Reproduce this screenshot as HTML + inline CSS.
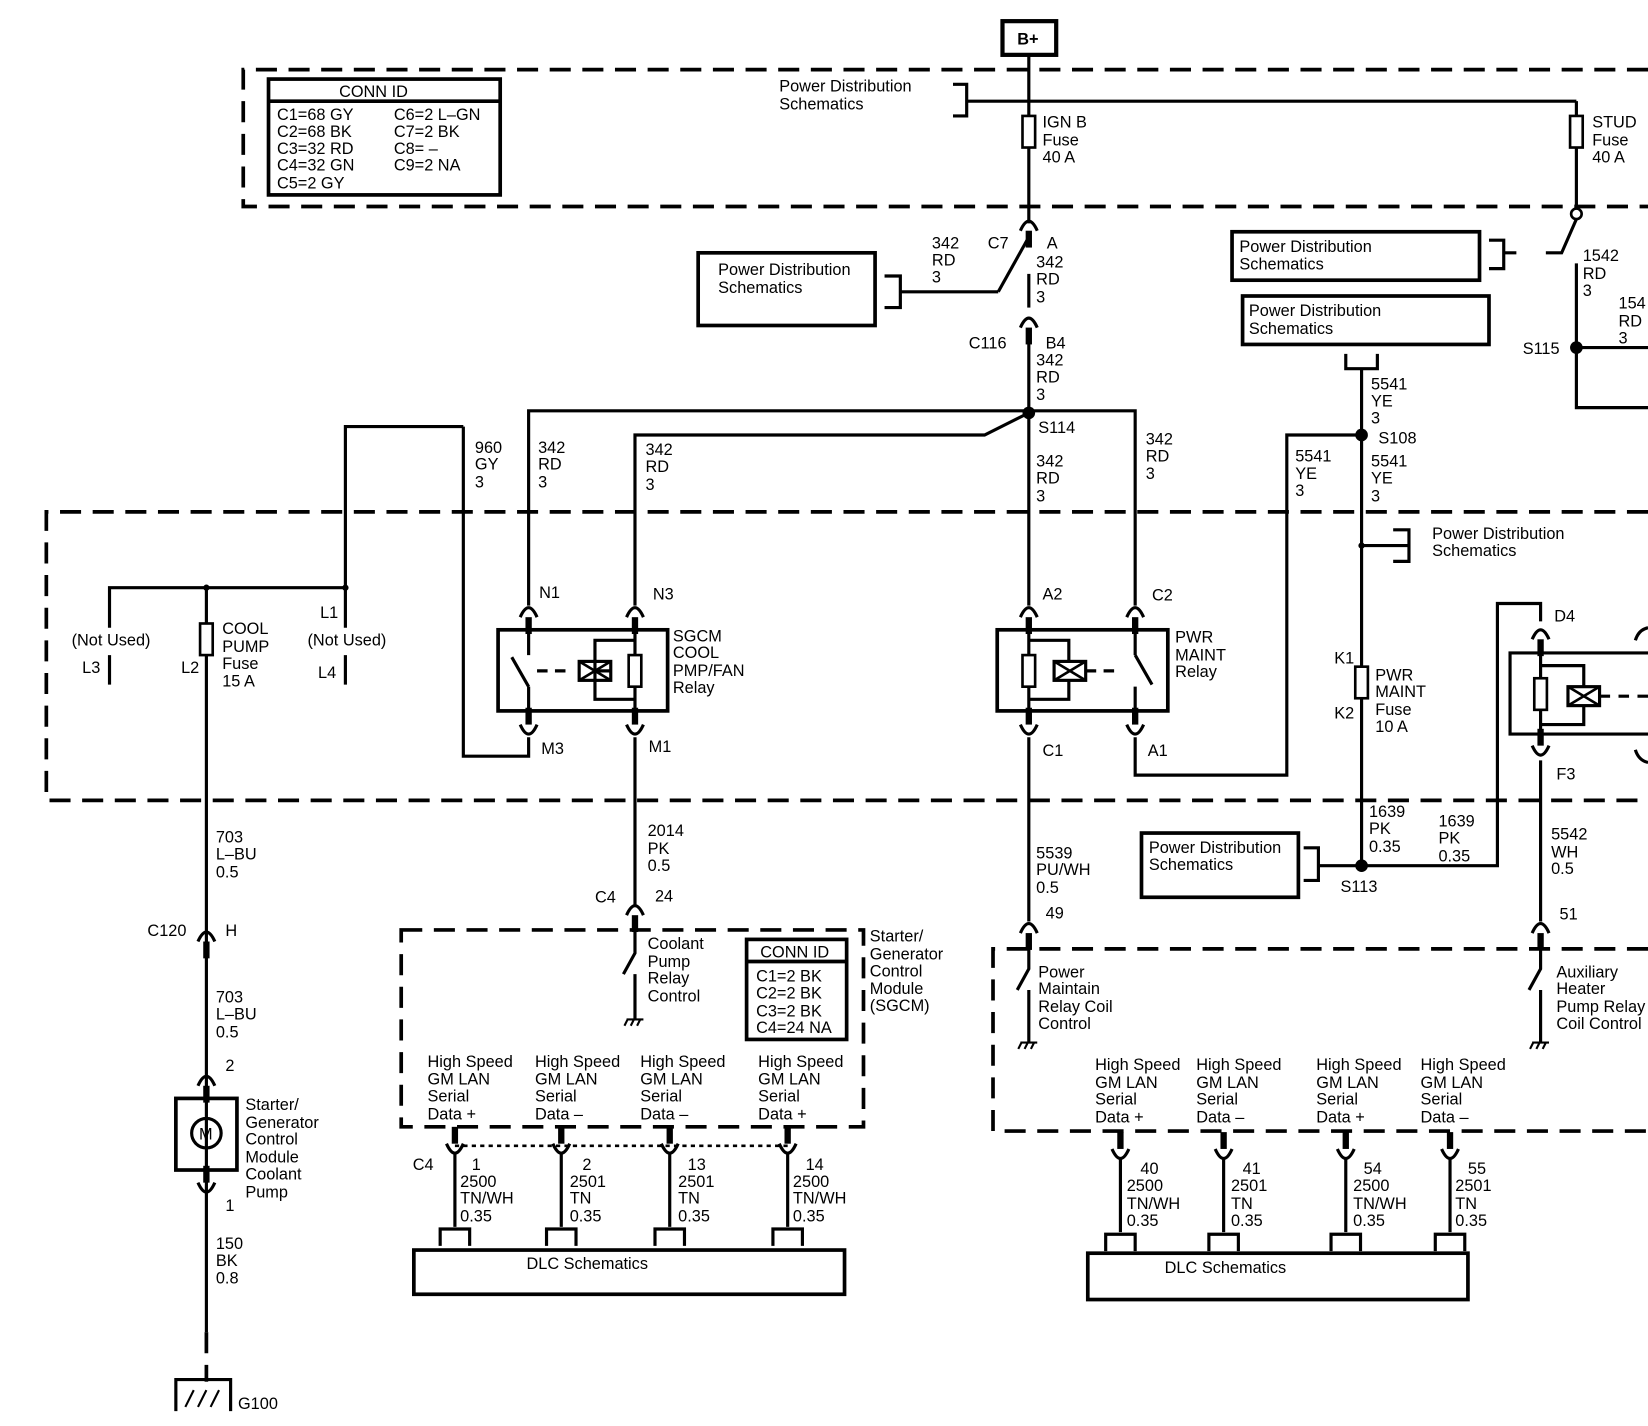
<!DOCTYPE html>
<html><head><meta charset="utf-8"><style>
html,body{margin:0;padding:0;background:#fff;}
svg{display:block;}
text{font-family:"Liberation Sans",sans-serif;font-size:15.5px;fill:#000;}
</style></head><body>
<svg width="1648" height="1426" viewBox="0 0 1565 1354" xmlns="http://www.w3.org/2000/svg">
<defs>
<g id="ct"><path d="M-8,9 Q0,-9 8,9" stroke="#000" stroke-width="3" fill="none"/><line x1="0" y1="9" x2="0" y2="25" stroke="#000" stroke-width="6"/></g>
<g id="cb"><path d="M-8,-9 Q0,9 8,-9" stroke="#000" stroke-width="3" fill="none"/><line x1="0" y1="-9" x2="0" y2="-25" stroke="#000" stroke-width="6"/></g>
<g id="fuse"><rect x="-6" y="0" width="12" height="30" fill="#fff" stroke="#000" stroke-width="2.5"/></g>
<g id="pin"><path d="M-14,16 V0 H14 V16" stroke="#000" stroke-width="3" fill="none"/></g>
<g id="gnd"><path d="M-8,0 H8 M-7,0 L-10,6 M-1,0 L-4,6 M5,0 L2,6" stroke="#000" stroke-width="2" fill="none"/></g>
</defs>
<g stroke="#000" stroke-width="3" fill="none">
<g stroke-dasharray="20,11" stroke-width="3.5">
<path d="M1565,66 H231 V196 H1565"/>
<path d="M1565,486 H44 V760 H1565"/>
<rect x="381" y="883" width="439" height="187"/>
<path d="M1565,901 H943 V1074 H1565"/>
<line x1="196" y1="1265" x2="196" y2="1312"/>
</g>
<path d="M432,1088 H748" stroke-dasharray="4,4" stroke-width="2.5"/>
<rect x="952" y="20" width="51" height="32" stroke-width="4"/>
<line x1="977" y1="52" x2="977" y2="212"/>
<rect x="255" y="75" width="220" height="110" stroke-width="3.5"/>
<line x1="255" y1="96" x2="475" y2="96" stroke-width="3.5"/>
<path d="M905,80 H918 V110 H905"/>
<line x1="918" y1="96" x2="1497" y2="96"/>
<line x1="1497" y1="96" x2="1497" y2="198"/>
<circle cx="1497" cy="203" r="5" fill="#fff" stroke-width="2.5"/>
<path d="M1497,208 L1483,240 H1468"/>
<line x1="1497" y1="250" x2="1497" y2="330"/>
<path d="M1497,330 H1565 M1497,330 V387 H1565"/>
<rect x="1170" y="220" width="235" height="46" stroke-width="3.5"/>
<path d="M1414,228 H1428 V255 H1414 M1428,240 H1440"/>
<rect x="1180" y="281" width="234" height="46" stroke-width="3.5"/>
<path d="M1278,336 V350 H1308 V336"/>
<line x1="977" y1="225" x2="948" y2="277"/>
<rect x="663" y="240" width="168" height="69" stroke-width="3.5"/>
<path d="M840,262 H855 V292 H840 M855,277 H948"/>
<line x1="977" y1="260" x2="977" y2="292"/>
<line x1="977" y1="317" x2="977" y2="575"/>
<path d="M502,575 V390 H1078 V575"/>
<path d="M603,575 V413 H935 L977,392"/>
<path d="M440,405 H328 V596 M328,622 V650 M440,405 V718 H502 V700"/>
<path d="M104,596 V558 H328 M104,622 V650"/>
<line x1="196" y1="558" x2="196" y2="1265"/>
<rect x="473" y="598" width="161" height="77" stroke-width="3.5"/>
<path d="M502,598 V622 M502,652 V675 M502,652 L486,624"/>
<path d="M510,637 H540" stroke-dasharray="10,7"/>
<rect x="550" y="628" width="30" height="18" stroke-width="3"/>
<path d="M550,628 L580,646 M550,646 L580,628" stroke-width="2.5"/>
<path d="M580,637 H565 M565,637 V608 H603 M565,637 V664 H603"/>
<line x1="603" y1="598" x2="603" y2="675"/>
<rect x="597" y="622" width="12" height="30" fill="#fff" stroke-width="2.5"/>
<line x1="603" y1="700" x2="603" y2="860"/>
<rect x="947" y="598" width="162" height="77" stroke-width="3.5"/>
<line x1="977" y1="598" x2="977" y2="675"/>
<rect x="971" y="622" width="12" height="30" fill="#fff" stroke-width="2.5"/>
<path d="M977,608 H1015 V628 M977,664 H1015 V646"/>
<rect x="1001" y="628" width="30" height="18"/>
<path d="M1001,628 L1031,646 M1001,646 L1031,628" stroke-width="2.5"/>
<path d="M1031,637 H1064" stroke-dasharray="10,7"/>
<path d="M1078,598 V622 M1078,652 V675 M1078,622 L1094,650"/>
<line x1="977" y1="700" x2="977" y2="875"/>
<path d="M1078,700 V736 H1222 V413 H1293"/>
<line x1="1293" y1="350" x2="1293" y2="822"/>
<path d="M1293,518 H1338 M1323,503 H1338 V533 H1323"/>
<path d="M1293,822 H1422 V573 H1463 V590"/>
<path d="M1238,805 H1252 V836 H1238 M1252,822 H1293"/>
<rect x="1084" y="791" width="149" height="61" stroke-width="3.5"/>
<path d="M1565,620 H1434 V697 H1565"/>
<line x1="1463" y1="620" x2="1463" y2="697"/>
<rect x="1457" y="644" width="12" height="30" fill="#fff" stroke-width="2.5"/>
<path d="M1463,632 H1504 V652 M1463,688 H1504 V669"/>
<rect x="1489" y="652" width="30" height="18"/>
<path d="M1489,652 L1519,670 M1489,670 L1519,652" stroke-width="2.5"/>
<path d="M1519,661 H1565" stroke-dasharray="10,8"/>
<path d="M1553,608 Q1556,598 1565,596 M1553,712 Q1556,722 1565,724"/>
<line x1="1463" y1="722" x2="1463" y2="875"/>
<path d="M603,885 V905 L592,925 M603,925 V968"/>
<path d="M977,900 V920 L966,940 M977,940 V990"/>
<path d="M1463,900 V920 L1452,940 M1463,940 V990"/>
<rect x="167" y="1043" width="58" height="68" stroke-width="3.5"/>
<circle cx="196" cy="1076" r="14" stroke-width="3"/>
<path d="M167,1340 V1310 H219 V1340 M196,1312 V1310"/>
<path d="M176,1336 L184,1320 M188,1336 L196,1320 M200,1336 L208,1320" stroke-width="2"/>
<path d="M432,1095 V1165 M533,1095 V1165 M636,1095 V1165 M748,1095 V1165"/>
<path d="M1064,1100 V1170 M1162,1100 V1170 M1278,1100 V1170 M1377,1100 V1170"/>
<rect x="393" y="1187" width="409" height="42" stroke-width="3.5"/>
<rect x="1033" y="1190" width="361" height="44" stroke-width="3.5"/>
</g>
<use href="#gnd" x="603" y="968"/><use href="#gnd" x="977" y="990"/><use href="#gnd" x="1463" y="990"/>
<use href="#fuse" x="977" y="110"/><use href="#fuse" x="1497" y="110"/>
<use href="#fuse" x="196" y="592"/><use href="#fuse" x="1293" y="633"/>
<use href="#ct" x="977" y="210"/><use href="#ct" x="977" y="302"/>
<use href="#ct" x="502" y="577"/><use href="#ct" x="603" y="577"/>
<use href="#cb" x="502" y="697"/><use href="#cb" x="603" y="697"/>
<use href="#ct" x="977" y="577"/><use href="#ct" x="1078" y="577"/>
<use href="#cb" x="977" y="697"/><use href="#cb" x="1078" y="697"/>
<use href="#ct" x="1463" y="598"/><use href="#cb" x="1463" y="717"/>
<use href="#ct" x="603" y="860"/><use href="#ct" x="977" y="877"/><use href="#ct" x="1463" y="877"/>
<use href="#ct" x="196" y="885"/><use href="#ct" x="196" y="1022"/><use href="#cb" x="196" y="1132"/>
<use href="#cb" x="432" y="1095"/><use href="#cb" x="533" y="1095"/><use href="#cb" x="636" y="1095"/><use href="#cb" x="748" y="1095"/>
<use href="#cb" x="1064" y="1100"/><use href="#cb" x="1162" y="1100"/><use href="#cb" x="1278" y="1100"/><use href="#cb" x="1377" y="1100"/>
<use href="#pin" x="432" y="1167"/><use href="#pin" x="533" y="1167"/><use href="#pin" x="636" y="1167"/><use href="#pin" x="748" y="1167"/>
<use href="#pin" x="1064" y="1172"/><use href="#pin" x="1162" y="1172"/><use href="#pin" x="1278" y="1172"/><use href="#pin" x="1377" y="1172"/>
<g fill="#000"><circle cx="977" cy="392" r="6"/><circle cx="1293" cy="413" r="6"/><circle cx="1293" cy="822" r="6"/><circle cx="1497" cy="330" r="6"/><circle cx="196" cy="558" r="3"/><circle cx="328" cy="558" r="3"/><circle cx="1293" cy="518" r="3"/></g>
<text x="966" y="42" font-weight="bold">B+</text>
<text x="322" y="92">CONN ID</text>
<text x="263" y="114">C1=68 GY</text><text x="263" y="130">C2=68 BK</text><text x="263" y="146">C3=32 RD</text><text x="263" y="162">C4=32 GN</text><text x="263" y="179">C5=2 GY</text>
<text x="374" y="114">C6=2 L–GN</text><text x="374" y="130">C7=2 BK</text><text x="374" y="146">C8= –</text><text x="374" y="162">C9=2 NA</text>
<text x="740" y="87">Power Distribution</text><text x="740" y="104">Schematics</text>
<text x="990" y="121">IGN B</text><text x="990" y="138">Fuse</text><text x="990" y="154">40 A</text>
<text x="1512" y="121">STUD</text><text x="1512" y="138">Fuse</text><text x="1512" y="154">40 A</text>
<text x="682" y="261">Power Distribution</text><text x="682" y="278">Schematics</text>
<text x="885" y="236">342</text><text x="885" y="252">RD</text><text x="885" y="268">3</text>
<text x="938" y="236">C7</text><text x="994" y="236">A</text>
<text x="984" y="254">342</text><text x="984" y="270">RD</text><text x="984" y="287">3</text>
<text x="920" y="331">C116</text><text x="993" y="331">B4</text>
<text x="984" y="347">342</text><text x="984" y="363">RD</text><text x="984" y="380">3</text>
<text x="986" y="411">S114</text>
<text x="984" y="443">342</text><text x="984" y="459">RD</text><text x="984" y="476">3</text>
<text x="1088" y="422">342</text><text x="1088" y="438">RD</text><text x="1088" y="455">3</text>
<text x="451" y="430">960</text><text x="451" y="446">GY</text><text x="451" y="463">3</text>
<text x="511" y="430">342</text><text x="511" y="446">RD</text><text x="511" y="463">3</text>
<text x="613" y="432">342</text><text x="613" y="448">RD</text><text x="613" y="465">3</text>
<text x="1177" y="239">Power Distribution</text><text x="1177" y="256">Schematics</text>
<text x="1186" y="300">Power Distribution</text><text x="1186" y="317">Schematics</text>
<text x="1503" y="248">1542</text><text x="1503" y="265">RD</text><text x="1503" y="281">3</text>
<text x="1537" y="293">154</text><text x="1537" y="310">RD</text><text x="1537" y="326">3</text>
<text x="1446" y="336">S115</text>
<text x="1302" y="370">5541</text><text x="1302" y="386">YE</text><text x="1302" y="402">3</text>
<text x="1309" y="421">S108</text>
<text x="1302" y="443">5541</text><text x="1302" y="459">YE</text><text x="1302" y="476">3</text>
<text x="1230" y="438">5541</text><text x="1230" y="455">YE</text><text x="1230" y="471">3</text>
<text x="1360" y="512">Power Distribution</text><text x="1360" y="528">Schematics</text>
<text x="512" y="568">N1</text><text x="620" y="569">N3</text>
<text x="990" y="569">A2</text><text x="1094" y="570">C2</text><text x="1476" y="590">D4</text>
<text x="68" y="613">(Not Used)</text><text x="292" y="613">(Not Used)</text>
<text x="304" y="587">L1</text><text x="78" y="639">L3</text><text x="172" y="639">L2</text><text x="302" y="644">L4</text>
<text x="211" y="602">COOL</text><text x="211" y="619">PUMP</text><text x="211" y="635">Fuse</text><text x="211" y="652">15 A</text>
<text x="639" y="609">SGCM</text><text x="639" y="625">COOL</text><text x="639" y="642">PMP/FAN</text><text x="639" y="658">Relay</text>
<text x="1116" y="610">PWR</text><text x="1116" y="627">MAINT</text><text x="1116" y="643">Relay</text>
<text x="1267" y="630">K1</text><text x="1267" y="682">K2</text>
<text x="1306" y="646">PWR</text><text x="1306" y="662">MAINT</text><text x="1306" y="679">Fuse</text><text x="1306" y="695">10 A</text>
<text x="514" y="716">M3</text><text x="616" y="714">M1</text><text x="990" y="718">C1</text><text x="1090" y="718">A1</text><text x="1478" y="740">F3</text>
<text x="205" y="800">703</text><text x="205" y="816">L–BU</text><text x="205" y="833">0.5</text>
<text x="615" y="794">2014</text><text x="615" y="811">PK</text><text x="615" y="827">0.5</text>
<text x="984" y="815">5539</text><text x="984" y="831">PU/WH</text><text x="984" y="848">0.5</text>
<text x="1300" y="776">1639</text><text x="1300" y="792">PK</text><text x="1300" y="809">0.35</text>
<text x="1366" y="785">1639</text><text x="1366" y="801">PK</text><text x="1366" y="818">0.35</text>
<text x="1473" y="797">5542</text><text x="1473" y="814">WH</text><text x="1473" y="830">0.5</text>
<text x="1091" y="810">Power Distribution</text><text x="1091" y="826">Schematics</text>
<text x="1273" y="847">S113</text>
<text x="565" y="857">C4</text><text x="622" y="856">24</text>
<text x="140" y="889">C120</text><text x="214" y="889">H</text>
<text x="993" y="872">49</text><text x="1481" y="873">51</text>
<text x="615" y="901">Coolant</text><text x="615" y="918">Pump</text><text x="615" y="934">Relay</text><text x="615" y="951">Control</text>
<rect x="709" y="892" width="95" height="95" fill="none" stroke="#000" stroke-width="3.5"/>
<line x1="709" y1="913" x2="804" y2="913" stroke="#000" stroke-width="3.5"/>
<text x="722" y="909">CONN ID</text>
<text x="718" y="932">C1=2 BK</text><text x="718" y="948">C2=2 BK</text><text x="718" y="965">C3=2 BK</text><text x="718" y="981">C4=24 NA</text>
<text x="826" y="894">Starter/</text><text x="826" y="911">Generator</text><text x="826" y="927">Control</text><text x="826" y="944">Module</text><text x="826" y="960">(SGCM)</text>
<text x="986" y="928">Power</text><text x="986" y="944">Maintain</text><text x="986" y="961">Relay Coil</text><text x="986" y="977">Control</text>
<text x="1478" y="928">Auxiliary</text><text x="1478" y="944">Heater</text><text x="1478" y="961">Pump Relay</text><text x="1478" y="977">Coil Control</text>
<text x="205" y="952">703</text><text x="205" y="968">L–BU</text><text x="205" y="985">0.5</text>
<text x="214" y="1017">2</text><text x="214" y="1150">1</text>
<text x="233" y="1054">Starter/</text><text x="233" y="1071">Generator</text><text x="233" y="1087">Control</text><text x="233" y="1104">Module</text><text x="233" y="1120">Coolant</text><text x="233" y="1137">Pump</text>
<text x="189" y="1082" font-size="14">M</text>
<text x="205" y="1186">150</text><text x="205" y="1202">BK</text><text x="205" y="1219">0.8</text>
<text x="226" y="1338">G100</text>
<text x="406" y="1013">High Speed</text><text x="406" y="1030">GM LAN</text><text x="406" y="1046">Serial</text><text x="406" y="1063">Data +</text>
<text x="508" y="1013">High Speed</text><text x="508" y="1030">GM LAN</text><text x="508" y="1046">Serial</text><text x="508" y="1063">Data –</text>
<text x="608" y="1013">High Speed</text><text x="608" y="1030">GM LAN</text><text x="608" y="1046">Serial</text><text x="608" y="1063">Data –</text>
<text x="720" y="1013">High Speed</text><text x="720" y="1030">GM LAN</text><text x="720" y="1046">Serial</text><text x="720" y="1063">Data +</text>
<text x="1040" y="1016">High Speed</text><text x="1040" y="1033">GM LAN</text><text x="1040" y="1049">Serial</text><text x="1040" y="1066">Data +</text>
<text x="1136" y="1016">High Speed</text><text x="1136" y="1033">GM LAN</text><text x="1136" y="1049">Serial</text><text x="1136" y="1066">Data –</text>
<text x="1250" y="1016">High Speed</text><text x="1250" y="1033">GM LAN</text><text x="1250" y="1049">Serial</text><text x="1250" y="1066">Data +</text>
<text x="1349" y="1016">High Speed</text><text x="1349" y="1033">GM LAN</text><text x="1349" y="1049">Serial</text><text x="1349" y="1066">Data –</text>
<text x="392" y="1111">C4</text>
<text x="448" y="1111">1</text><text x="437" y="1127">2500</text><text x="437" y="1143">TN/WH</text><text x="437" y="1160">0.35</text>
<text x="553" y="1111">2</text><text x="541" y="1127">2501</text><text x="541" y="1143">TN</text><text x="541" y="1160">0.35</text>
<text x="653" y="1111">13</text><text x="644" y="1127">2501</text><text x="644" y="1143">TN</text><text x="644" y="1160">0.35</text>
<text x="765" y="1111">14</text><text x="753" y="1127">2500</text><text x="753" y="1143">TN/WH</text><text x="753" y="1160">0.35</text>
<text x="500" y="1205">DLC Schematics</text>
<text x="1083" y="1115">40</text><text x="1070" y="1131">2500</text><text x="1070" y="1148">TN/WH</text><text x="1070" y="1164">0.35</text>
<text x="1180" y="1115">41</text><text x="1169" y="1131">2501</text><text x="1169" y="1148">TN</text><text x="1169" y="1164">0.35</text>
<text x="1295" y="1115">54</text><text x="1285" y="1131">2500</text><text x="1285" y="1148">TN/WH</text><text x="1285" y="1164">0.35</text>
<text x="1394" y="1115">55</text><text x="1382" y="1131">2501</text><text x="1382" y="1148">TN</text><text x="1382" y="1164">0.35</text>
<text x="1106" y="1209">DLC Schematics</text>
</svg>
</body></html>
